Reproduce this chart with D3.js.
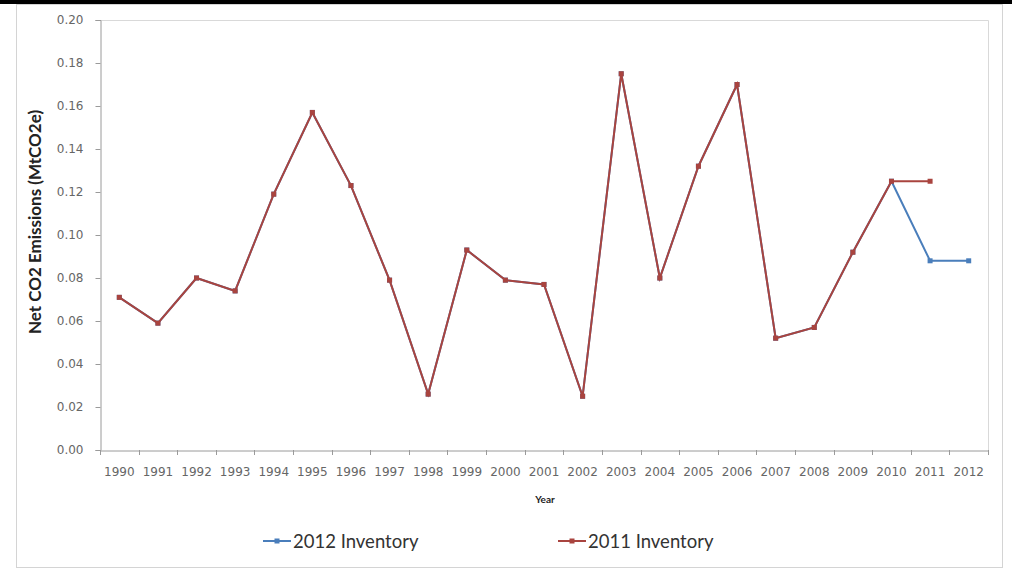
<!DOCTYPE html>
<html><head><meta charset="utf-8">
<script src="https://cdn.jsdelivr.net/npm/d3@7/dist/d3.min.js"></script>
<style>body{margin:0;background:#fff}svg{display:block}</style>
</head><body>
<svg id="chart" width="1012" height="572"></svg>
<script>
const years = ["1990","1991","1992","1993","1994","1995","1996","1997","1998","1999","2000","2001","2002","2003","2004","2005","2006","2007","2008","2009","2010","2011","2012"];
const inv2012 = [0.071,0.059,0.080,0.074,0.119,0.157,0.123,0.079,0.026,0.093,0.079,0.077,0.025,0.175,0.080,0.132,0.170,0.052,0.057,0.092,0.125,0.088,0.088];
const inv2011 = [0.071,0.059,0.080,0.074,0.119,0.157,0.123,0.079,0.026,0.093,0.079,0.077,0.025,0.175,0.080,0.132,0.170,0.052,0.057,0.092,0.125,0.125,null];
const yTicks = [0,0.02,0.04,0.06,0.08,0.10,0.12,0.14,0.16,0.18,0.20];
const seriesNames = ["2012 Inventory","2011 Inventory"];
const colors = ["#4A7EBB","#A9443F"];

const svg = d3.select("#chart");
const L = 100, R = 988, T = 20, B = 450;

// top black bar and outer frame
svg.append("rect").attr("x",0).attr("y",0).attr("width",1012).attr("height",4).attr("fill","#000");
svg.append("rect").attr("x",16.5).attr("y",4.5).attr("width",986).attr("height",563)
  .attr("fill","none").attr("stroke","#d4d4d4");

const x = d3.scaleBand().domain(years).range([L,R]);
const y = d3.scaleLinear().domain([0,0.2]).range([B,T]);

// plot area border (top/right)
svg.append("path").attr("d",`M${L},${T+0.5}H${R+0.5}V${B}`).attr("fill","none").attr("stroke","#d9d9d9");

// y axis
const ya = svg.append("g").attr("transform",`translate(${L+0.5},0)`)
  .call(d3.axisLeft(y).tickValues(yTicks).tickFormat(d3.format(".2f")).tickSize(5).tickPadding(12));
ya.select(".domain").attr("stroke","#9a9a9a");
ya.selectAll(".tick line").attr("stroke","#9a9a9a");
ya.selectAll("text").attr("font-family","DejaVu Sans").attr("font-size",12).attr("fill","#666");

// x axis with ticks between categories
const xa = svg.append("g").attr("transform",`translate(0,${B+0.5})`)
  .call(d3.axisBottom(x).tickSize(0).tickPadding(17));
xa.select(".domain").attr("stroke","#9a9a9a");
xa.selectAll("text").attr("font-family","DejaVu Sans").attr("font-size",12).attr("fill","#666");
const bounds = years.map(d => x(d)).concat([R]);
svg.append("g").selectAll("line").data(bounds).join("line")
  .attr("x1",d=>Math.round(d)+0.5).attr("x2",d=>Math.round(d)+0.5)
  .attr("y1",B).attr("y2",B+5).attr("stroke","#9a9a9a");

// axis titles
svg.append("text").attr("transform","translate(41,222) rotate(-90)").attr("text-anchor","middle")
  .attr("font-family","Lato").attr("font-weight","bold").attr("font-size",17).attr("fill","#222")
  .text("Net CO2 Emissions (MtCO2e)");
svg.append("text").attr("x",545).attr("y",503).attr("text-anchor","middle")
  .attr("font-family","Lato").attr("font-weight","bold").attr("font-size",10).attr("fill","#222")
  .text("Year");

// series
const cx = d => x(d) + x.bandwidth()/2;
[inv2012, inv2011].forEach((vals,i) => {
  const pts = years.map((yr,j)=>({yr, v: vals[j]})).filter(p=>p.v!==null);
  const line = d3.line().x(p=>cx(p.yr)).y(p=>y(p.v));
  svg.append("path").datum(pts).attr("d",line).attr("fill","none")
    .attr("stroke",colors[i]).attr("stroke-width",2);
  svg.append("g").selectAll("rect").data(pts).join("rect")
    .attr("x",p=>cx(p.yr)-2.5).attr("y",p=>y(p.v)-2.5).attr("width",5).attr("height",5)
    .attr("fill",colors[i]);
});

// legend
const legX = [263, 558];
seriesNames.forEach((name,i) => {
  const g = svg.append("g").attr("transform",`translate(${legX[i]},541)`);
  g.append("line").attr("x1",0).attr("x2",28).attr("y1",0).attr("y2",0).attr("stroke",colors[i]).attr("stroke-width",2);
  g.append("rect").attr("x",11.5).attr("y",-2.5).attr("width",5).attr("height",5).attr("fill",colors[i]);
  g.append("text").attr("x",30).attr("y",6.5).attr("font-family","Lato").attr("font-size",18.5).attr("fill","#333").text(name);
});
</script>
</body></html>
